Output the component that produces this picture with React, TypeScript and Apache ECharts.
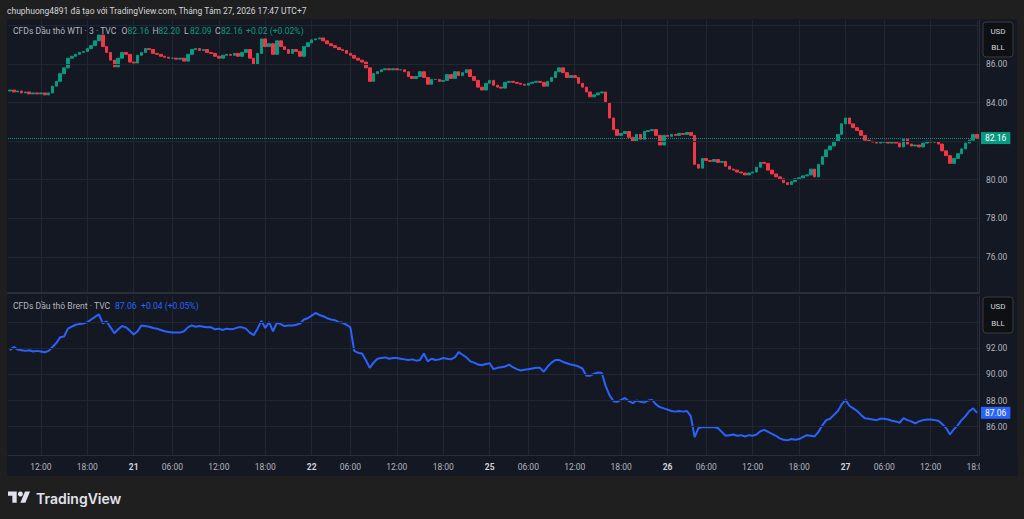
import React, { useEffect, useRef } from "react";
import * as echarts from "echarts";

// ---- time axis (30-minute bars, sessions open at 01:00) ----
const days = ["20", "21", "22", "25", "26", "27"];
const dayStartHour = [8, 1, 1, 1, 1, 1];
const dayBarCount = [32, 46, 46, 46, 46, 35];
const labelTimes = ["06:00", "12:00", "18:00"];
const sessionOpenTime = "01:00";

// ---- WTI (top pane, candles) ----
const wtiFirstOpen = 84.6;
const wtiClose = [
  // 20
  84.65, 84.55, 84.6, 84.5, 84.55, 84.45, 84.5, 84.45, 84.5, 84.4, 84.5, 84.85, 85.1, 85.5, 85.8, 86.3,
  86.4, 86.5, 86.6, 86.65, 86.8, 86.95, 87.2, 87.5, 86.9, 86.6, 86.2, 85.85, 86.3, 86.6, 86.5, 86.1,
  // 21
  86.05, 86.45, 86.6, 86.8, 86.75, 86.55, 86.5, 86.4, 86.35, 86.3, 86.3, 86.25, 86.3, 86.15, 86.5, 86.75,
  86.8, 86.7, 86.75, 86.6, 86.55, 86.4, 86.3, 86.45, 86.5, 86.45, 86.55, 86.4, 86.6, 86.75, 86.3, 86.0,
  86.55, 87.3, 86.9, 87.05, 86.5, 87.2, 86.9, 86.75, 86.55, 86.75, 86.65, 86.4, 86.9, 87.1,
  // 22
  87.25, 87.3, 87.35, 87.2, 87.05, 86.95, 86.85, 86.75, 86.7, 86.55, 86.45, 86.3, 86.2, 86.1, 85.8, 85.1,
  85.5, 85.6, 85.7, 85.75, 85.7, 85.75, 85.7, 85.7, 85.6, 85.35, 85.25, 85.35, 85.6, 85.3, 84.95, 85.2,
  85.2, 85.1, 85.15, 85.45, 85.25, 85.6, 85.4, 85.55, 85.7, 85.35, 85.15, 84.8, 84.65, 85.0,
  // 25
  85.15, 84.9, 84.8, 84.75, 85.05, 85.1, 85.05, 85.0, 84.95, 84.9, 85.0, 85.05, 85.1, 85.05, 84.85, 85.1,
  85.3, 85.6, 85.8, 85.55, 85.3, 85.4, 85.3, 85.0, 84.8, 84.55, 84.3, 84.4, 84.5, 84.55, 84.0, 83.2,
  82.6, 82.3, 82.4, 82.5, 82.2, 82.0, 82.35, 82.1, 82.5, 82.55, 82.6, 82.3, 81.8, 82.3,
  // 26
  82.25, 82.35, 82.3, 82.4, 82.35, 82.45, 82.3, 80.8, 80.6, 81.1, 81.0, 80.95, 81.05, 80.9, 80.95, 80.7,
  80.55, 80.5, 80.4, 80.35, 80.25, 80.35, 80.4, 80.65, 80.9, 80.85, 80.5, 80.3, 80.15, 80.05, 79.85, 79.75,
  79.9, 80.05, 80.1, 80.2, 80.25, 80.55, 80.15, 80.8, 81.2, 81.55, 81.75, 82.0, 82.35, 82.9,
  // 27
  83.2, 82.9, 82.7, 82.55, 82.3, 82.05, 82.0, 81.95, 81.9, 81.95, 81.95, 81.9, 81.95, 81.9, 81.7, 82.1,
  81.85, 81.75, 81.8, 81.7, 81.9, 82.0, 81.95, 81.95, 81.85, 81.5, 81.25, 80.85, 81.1, 81.35, 81.6, 81.9,
  82.05, 82.35, 82.16,
];

// ---- Brent (bottom pane, line) ----
const brentClose = [
  // 20
  91.85, 92.1, 91.9, 91.85, 91.8, 91.85, 91.75, 91.8, 91.75, 91.7, 91.8, 92.1, 92.4, 92.85, 92.9, 93.5,
  93.65, 93.8, 93.85, 93.9, 94.0, 94.2, 94.4, 94.6, 93.9, 94.05, 93.6, 93.15, 93.45, 93.7, 93.6, 93.35,
  // 21
  93.05, 93.3, 93.75, 93.7, 93.65, 93.55, 93.5, 93.4, 93.3, 93.25, 93.2, 93.2, 93.2, 93.3, 93.6, 93.75,
  93.65, 93.7, 93.65, 93.6, 93.6, 93.45, 93.5, 93.4, 93.5, 93.45, 93.5, 93.6, 93.6, 93.5, 93.2, 93.0,
  93.5, 94.1, 93.55, 94.0, 93.3, 93.95, 93.85, 93.7, 93.75, 93.75, 93.8, 93.9, 94.2, 94.3,
  // 22
  94.5, 94.7, 94.55, 94.45, 94.3, 94.2, 94.15, 94.0, 93.95, 93.8, 93.6, 91.8, 91.65, 91.6, 91.1, 90.5,
  90.9, 91.2, 91.25, 91.3, 91.2, 91.25, 91.25, 91.2, 91.15, 91.1, 91.15, 91.05, 91.1, 91.6, 91.0, 91.2,
  91.1, 91.15, 91.25, 91.2, 91.15, 91.3, 91.7, 91.5, 91.3, 91.0, 90.9, 90.75, 90.7, 90.8,
  // 25
  90.85, 90.4, 90.5, 90.55, 90.6, 90.75, 90.55, 90.4, 90.3, 90.35, 90.4, 90.45, 90.5, 90.5, 90.2, 90.6,
  90.9, 91.1, 91.1, 90.95, 90.85, 90.75, 90.7, 90.6, 90.45, 89.9, 89.9, 90.05, 90.15, 90.1, 89.1, 88.4,
  87.95, 87.9, 88.05, 88.2, 87.95, 87.8, 88.0, 87.9, 87.85, 88.0, 88.05, 87.7, 87.5, 87.4,
  // 26
  87.3, 87.2, 87.15, 87.2, 87.15, 87.2, 86.8, 85.2, 85.9, 85.95, 85.95, 85.95, 85.95, 85.9, 85.6, 85.3,
  85.35, 85.4, 85.3, 85.35, 85.25, 85.35, 85.3, 85.4, 85.65, 85.75, 85.6, 85.45, 85.3, 85.1, 85.0, 84.95,
  85.05, 85.0, 85.05, 85.2, 85.35, 85.3, 85.25, 85.6, 86.1, 86.5, 86.6, 86.9, 87.2, 87.7,
  // 27
  88.05, 87.6, 87.4, 87.2, 86.9, 86.65, 86.6, 86.55, 86.5, 86.6, 86.6, 86.55, 86.45, 86.4, 86.3, 86.65,
  86.5, 86.4, 86.25, 86.4, 86.5, 86.55, 86.55, 86.5, 86.45, 86.2, 85.9, 85.4, 85.8, 86.1, 86.5, 86.8,
  87.2, 87.4, 87.06,
];

// ---- price scales ----
const wtiRange = [74.13, 88.28];
const wtiLabelValues = [76, 78, 80, 84, 86];
const wtiGridValues = [76, 78, 80, 82, 84, 86, 88];
const brentRange = [83.83, 96.0];
const brentLabelValues = [86, 88, 90, 92];
const brentGridValues = [86, 88, 90, 92, 94];

// ---- texts ----
const headerText = "chuphuong4891 đã tạo với TradingView.com, Tháng Tám 27, 2026 17:47 UTC+7";
const wtiTitle = "CFDs Dầu thô WTI · 3 · TVC";
const wtiLegend = [
  { k: "O", v: "82.16" },
  { k: "H", v: "82.20" },
  { k: "L", v: "82.09" },
  { k: "C", v: "82.16" },
];
const wtiChange = "+0.02 (+0.02%)";
const brentTitle = "CFDs Dầu thô Brent · TVC";
const brentLast = "87.06";
const brentChange = "+0.04 (+0.05%)";

const FONT = 'Roboto, "Noto Sans", "DejaVu Sans", sans-serif';
const OUTER = "#1f1f1f";
const PANE = "#141823";
const GRID = "#222632";
const BORDER = "#2a2e39";
const AXIS_TXT = "#b2b5be";
const UP = "#089981";
const DOWN = "#f23645";
const BLUE = "#2962ff";
const LEG = 8.6;

const TV_PATH = "M14 22H7V11H0V4h14v18zM28 22h-8l7.5-18h8L28 22z";

export default function App() {
  const ref = useRef<HTMLDivElement>(null);

  useEffect(() => {
    document.body.style.margin = "0";
    if (!ref.current) return;
    try {
      echarts.graphic.registerShape("tvlogo", echarts.graphic.extendPath(TV_PATH, {}) as any);
    } catch (e) {}

    const categories: string[] = [];
    days.forEach((d, k) => {
      for (let j = 0; j < dayBarCount[k]; j++) {
        const mins = dayStartHour[k] * 60 + j * 30;
        const hh = String(Math.floor(mins / 60)).padStart(2, "0");
        const mm = String(mins % 60).padStart(2, "0");
        categories.push(`${d} ${hh}:${mm}`);
      }
    });

    const wtiOHLC = wtiClose.map((c, i) => {
      const o = i === 0 ? wtiFirstOpen : wtiClose[i - 1];
      return [o, c, Math.min(o, c), Math.max(o, c)];
    });

    const showTick = (_i: number, v: string) => {
      const t = String(v).split(" ")[1];
      return t === sessionOpenTime || labelTimes.includes(t);
    };

    const chart = echarts.init(ref.current, null, { renderer: "svg" });

    const legendEls: any[] = [];
    const txt = (text: string, x: number, y: number, fill: string, size = 9, weight: any = "normal") => ({
      type: "text",
      x,
      y,
      z: 100,
      style: { text, fill, fontSize: size, fontFamily: FONT, fontWeight: weight, verticalAlign: "middle", align: "left" },
    });
    legendEls.push(txt(headerText, 7, 11, "#d1d4dc", 8.5));
    legendEls.push(txt(wtiTitle, 13, 31, AXIS_TXT, LEG));
    const okx = [121.5, 152.5, 184, 215];
    wtiLegend.forEach((it, i) => {
      legendEls.push(txt(it.k, okx[i], 31, AXIS_TXT, LEG));
      legendEls.push(txt(it.v, okx[i] + 6, 31, UP, LEG));
    });
    legendEls.push(txt(wtiChange, 246, 31, UP, LEG));
    legendEls.push(txt(brentTitle, 13, 306, AXIS_TXT, LEG));
    legendEls.push(txt(brentLast, 115, 306, BLUE, LEG));
    legendEls.push(txt(brentChange, 141, 306, BLUE, LEG));

    const unitBox = (y: number, h: number) => [
      { type: "rect", z: 100, shape: { x: 983, y, width: 30, height: h, r: 3 }, style: { fill: "#0e1014", stroke: "#363a45", lineWidth: 1 } },
      { type: "text", z: 101, x: 998, y: y + h * 0.26, style: { text: "USD", fill: "#d1d4dc", fontSize: 8, fontFamily: FONT, align: "center", verticalAlign: "middle" } },
      { type: "text", z: 101, x: 998, y: y + h * 0.74, style: { text: "BLL", fill: "#d1d4dc", fontSize: 8, fontFamily: FONT, align: "center", verticalAlign: "middle" } },
    ];

    const option: any = {
      animation: false,
      backgroundColor: "transparent",
      textStyle: { fontFamily: FONT },
      grid: [
        { left: 8, right: 45, top: 20, height: 273 },
        { left: 8, right: 45, top: 296, height: 159 },
      ],
      xAxis: [
        {
          type: "category",
          gridIndex: 0,
          data: categories,
          boundaryGap: true,
          axisLine: { show: true, lineStyle: { color: BORDER, width: 2 } },
          axisTick: { show: false },
          axisLabel: { show: false },
          splitLine: { show: true, interval: showTick, alignWithLabel: true, lineStyle: { color: GRID } },
        },
        {
          type: "category",
          gridIndex: 1,
          data: categories,
          boundaryGap: true,
          z: 1,
          axisLine: { show: true, lineStyle: { color: BORDER } },
          axisTick: { show: false, alignWithLabel: true },
          axisLabel: {
            interval: showTick,
            color: AXIS_TXT,
            fontSize: 8.5,
            margin: 7,
            formatter: (v: string) => {
              const [d, t] = String(v).split(" ");
              return t === sessionOpenTime ? `{d|${d}}` : t;
            },
            rich: { d: { fontWeight: "bold", color: "#d1d4dc", fontSize: 8.5 } },
          },
          splitLine: { show: true, interval: showTick, alignWithLabel: true, lineStyle: { color: GRID } },
        },
      ],
      yAxis: [
        {
          type: "value",
          gridIndex: 0,
          position: "right",
          min: wtiRange[0],
          max: wtiRange[1],
          z: 5,
          axisLine: { show: true, lineStyle: { color: BORDER } },
          axisTick: { show: false, customValues: wtiGridValues },
          axisLabel: { customValues: wtiLabelValues, color: AXIS_TXT, fontSize: 8.5, margin: 7, formatter: (v: number) => v.toFixed(2) },
          splitLine: { show: true, lineStyle: { color: GRID } },
        },
        {
          type: "value",
          gridIndex: 1,
          position: "right",
          min: brentRange[0],
          max: brentRange[1],
          z: 5,
          axisLine: { show: true, lineStyle: { color: BORDER } },
          axisTick: { show: false, customValues: brentGridValues },
          axisLabel: { customValues: brentLabelValues, color: AXIS_TXT, fontSize: 8.5, margin: 7, formatter: (v: number) => v.toFixed(2) },
          splitLine: { show: true, lineStyle: { color: GRID } },
        },
      ],
      series: [
        {
          type: "candlestick",
          xAxisIndex: 0,
          yAxisIndex: 0,
          data: wtiOHLC,
          barWidth: "80%",
          itemStyle: { color: UP, color0: DOWN, borderColor: UP, borderColor0: DOWN, borderWidth: 1 },
          markLine: {
            silent: true,
            symbol: ["none", "none"],
            data: [{ yAxis: wtiClose[wtiClose.length - 1] }],
            lineStyle: { type: "dotted", color: UP, width: 1 },
            label: {
              show: true,
              position: "end",
              distance: 2,
              formatter: (p: any) => Number(p.value).toFixed(2),
              color: "#ffffff",
              backgroundColor: UP,
              padding: [2, 4, 1, 4],
              fontSize: 8.5,
              fontFamily: FONT,
            },
          },
        },
        {
          type: "line",
          xAxisIndex: 1,
          yAxisIndex: 1,
          data: brentClose,
          showSymbol: false,
          symbol: "none",
          lineStyle: { color: BLUE, width: 2 },
          markLine: {
            silent: true,
            symbol: ["none", "none"],
            data: [{ yAxis: brentClose[brentClose.length - 1] }],
            lineStyle: { color: BLUE, width: 0, opacity: 0 },
            label: {
              show: true,
              position: "end",
              distance: 2,
              formatter: (p: any) => Number(p.value).toFixed(2),
              color: "#ffffff",
              backgroundColor: BLUE,
              padding: [2, 4, 1, 4],
              fontSize: 8.5,
              fontFamily: FONT,
              opacity: 1,
            },
          },
        },
      ],
      graphic: {
        elements: [
          { type: "rect", z: 100, shape: { x: 980, y: 456, width: 38, height: 20 }, style: { fill: PANE } },
          ...legendEls,
          ...unitBox(22, 35),
          ...unitBox(297, 36),
          { type: "tvlogo", z: 100, x: 8, y: 489, scaleX: 0.62, scaleY: 0.62, style: { fill: "#e0e3eb" } },
          { type: "circle", z: 100, shape: { cx: 20.4, cy: 494, r: 2.5 }, style: { fill: "#e0e3eb" } },
          { type: "text", z: 100, x: 36, y: 498, style: { text: "TradingView", fill: "#e0e3eb", fontSize: 14, fontWeight: 600, fontFamily: 'Inter, Roboto, sans-serif', verticalAlign: "middle" } },
        ],
      },
    };

    chart.setOption(option);
    return () => chart.dispose();
  }, []);

  return (
    <div style={{ position: "relative", width: 1024, height: 519, background: OUTER, overflow: "hidden" }}>
      <div style={{ position: "absolute", left: 7, top: 19, width: 1010, height: 457, background: PANE }} />
      <div ref={ref} style={{ position: "absolute", left: 0, top: 0, width: 1024, height: 519 }} />
    </div>
  );
}
